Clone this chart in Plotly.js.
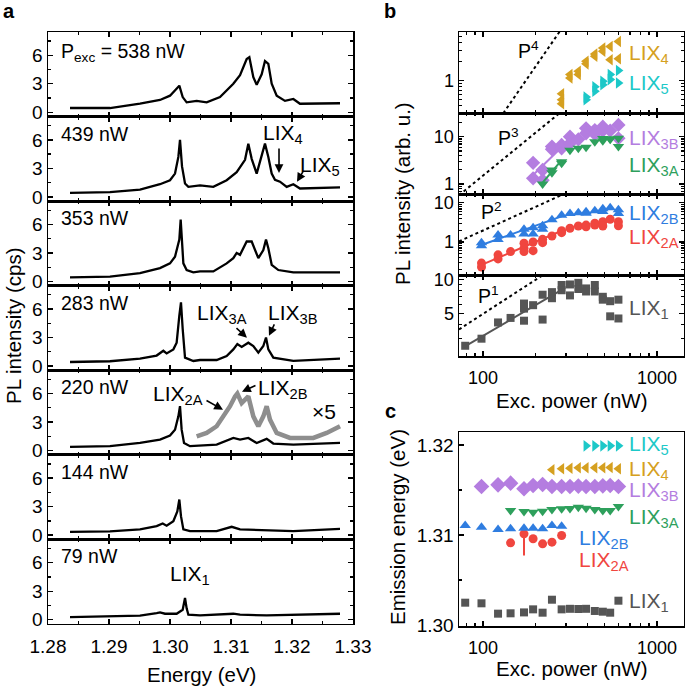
<!DOCTYPE html>
<html><head><meta charset="utf-8">
<script src="https://cdn.plot.ly/plotly-3.0.1.min.js"></script>
<style>html,body{margin:0;padding:0;background:#fff}</style>
</head><body><div id="chart" style="width:685px;height:686px"></div>
<script>
// ---------- Panel a: PL spectra (energy in eV, intensity in cps) ----------
const powersA = ['538', '439', '353', '283', '220', '144', '79'];
const E_538 = [1.28361,1.29016,1.29508,1.29836,1.30000,1.30109,1.30153,1.30208,1.30273,1.30437,1.30601,1.30820,1.30929,1.31038,1.31148,1.31257,1.31301,1.31366,1.31421,1.31503,1.31557,1.31612,1.31667,1.31749,1.31885,1.32022,1.32131,1.32787];
const I_538 = [0.45,0.45,0.9,1.3,1.75,2.45,2.8,1.6,1.05,1.2,1.05,1.6,2.3,3.0,3.9,5.6,5.8,3.7,2.9,4.0,5.4,5.1,3.0,1.75,1.2,1.4,0.9,0.95];
const E_439 = [1.28361,1.29016,1.29508,1.29836,1.30000,1.30082,1.30137,1.30164,1.30197,1.30246,1.30301,1.30492,1.30710,1.30929,1.31093,1.31230,1.31284,1.31339,1.31421,1.31503,1.31557,1.31612,1.31667,1.31721,1.31803,1.31913,1.32022,1.32131,1.32787];
const I_439 = [0.42,0.5,0.77,1.33,1.75,2.45,4.2,6.0,3.2,1.4,1.05,1.2,1.05,1.75,2.6,3.9,5.6,4.0,2.45,4.2,5.6,4.2,2.45,1.8,1.6,1.05,1.33,0.88,1.0];
const E_353 = [1.28361,1.29016,1.29508,1.29836,1.30000,1.30082,1.30153,1.30175,1.30219,1.30273,1.30383,1.30492,1.30710,1.30929,1.31038,1.31093,1.31148,1.31257,1.31339,1.31393,1.31448,1.31530,1.31574,1.31612,1.31667,1.31776,1.32022,1.32787];
const I_353 = [0.42,0.5,0.88,1.4,1.9,2.6,4.4,6.5,1.9,1.2,0.95,1.05,1.05,1.9,2.45,3.0,2.8,4.2,4.2,3.3,2.45,3.3,4.4,3.5,1.75,1.2,0.95,0.95];
const E_283 = [1.28361,1.29016,1.29508,1.29781,1.29891,1.29945,1.30055,1.30109,1.30153,1.30180,1.30208,1.30246,1.30383,1.30492,1.30765,1.30929,1.31038,1.31104,1.31175,1.31284,1.31366,1.31448,1.31530,1.31574,1.31612,1.31694,1.32022,1.32787];
const I_283 = [0.42,0.5,0.77,1.1,1.6,1.33,1.75,2.45,5.3,6.7,3.9,0.88,0.53,0.63,0.63,1.05,1.75,2.3,2.0,2.45,2.1,1.4,2.1,3.0,1.75,0.88,0.53,0.77];
const E_220 = [1.28361,1.29016,1.29508,1.29836,1.30000,1.30082,1.30137,1.30164,1.30191,1.30230,1.30328,1.30765,1.31038,1.31148,1.31284,1.31421,1.31585,1.31694,1.32022,1.32787];
const I_220 = [0.39,0.46,0.8,1.16,1.58,2.2,3.6,4.67,2.2,0.8,0.46,0.63,1.33,1.16,1.33,0.8,1.23,0.74,0.63,0.8];
const E_220x5 = [1.30437,1.30601,1.30765,1.30874,1.30984,1.31066,1.31104,1.31175,1.31284,1.31366,1.31448,1.31530,1.31585,1.31639,1.31749,1.31967,1.32350,1.32568,1.32787];
const I_220x5 = [1.5,1.86,2.56,3.6,4.67,5.7,6.0,5.0,5.7,3.6,2.56,3.6,4.67,3.26,1.86,1.33,1.33,1.86,2.56];
const E_144 = [1.28361,1.29016,1.29508,1.29781,1.29880,1.29945,1.30055,1.30120,1.30153,1.30180,1.30219,1.30328,1.30765,1.31011,1.31148,1.31530,1.32022,1.32787];
const I_144 = [0.35,0.39,0.6,0.95,1.23,1.0,1.47,2.5,3.75,2.0,0.6,0.42,0.42,0.88,0.6,0.53,0.42,0.67];
const E_79 = [1.28361,1.29016,1.29508,1.29781,1.29836,1.29918,1.30109,1.30208,1.30246,1.30273,1.30301,1.30492,1.31038,1.31148,1.31585,1.32787];
const I_79 = [0.28,0.35,0.42,0.7,0.77,0.63,0.63,1.05,2.28,1.2,0.53,0.46,0.63,0.53,0.46,0.63];
const xTicksA = [1.28, 1.29, 1.30, 1.31, 1.32, 1.33];
const xTickTextA = ['1.28', '1.29', '1.30', '1.31', '1.32', '1.33'];
const yTicksA = [0, 3, 6];

// ---------- Panel b: integrated intensity vs excitation power ----------
const P_b1 = [79,98,122,144,172,172,172,194,220,220,249,249,283,283,316,316,353,353,391,391,439,439,488,488,538,538,600,600];
const I_b1 = [2.58,2.98,4.15,4.55,6.1,5.5,4.3,5.9,7.3,4.4,7.7,6.8,8.9,8.0,9.0,7.2,9.3,8.2,8.3,7.8,8.9,7.8,7.0,6.6,6.4,4.7,6.6,4.5];
const P_b2B = [98,98,122,122,144,172,172,194,194,220,220,249,283,316,353,391,391,439,488,488,538,600,600];
const I_b2B = [0.95,0.8,1.5,1.15,1.5,2.1,1.6,2.3,1.6,2.6,2.1,3.7,4.8,5.3,5.6,5.9,5.4,6.3,7.0,6.0,7.5,6.6,5.3];
const P_b2A = [98,98,122,122,144,172,172,172,194,194,220,220,249,283,283,316,353,391,391,439,439,488,488,538,600,600];
const I_b2A = [0.29,0.23,0.47,0.37,0.57,0.93,0.69,0.57,1.0,0.6,1.17,0.96,1.42,1.95,1.73,2.24,2.56,2.7,2.45,3.0,2.7,3.3,2.56,3.8,3.3,2.6];
const P_b3B = [194,194,220,220,249,249,283,283,316,316,353,391,391,439,439,488,488,538,600,600];
const I_b3B = [2.8,1.32,1.98,1.2,6.2,5.4,6.7,5.7,10,7.25,8.8,15,11.8,13.8,11.4,16.3,13.4,13.4,17.7,9.25];
const P_b3A = [220,249,249,283,283,316,353,391,439,488,488,538,538,600,600];
const I_b3A = [1.0,1.98,1.73,2.74,2.96,5.2,5.7,5.97,7.8,8.2,9.2,8.8,9.0,9.25,6.2];
const P_b4 = [283,283,283,316,316,353,353,391,391,439,439,488,488,538,538,600,600];
const I_b4 = [0.62,0.5,0.43,1.25,1.1,1.41,1.25,2.03,1.85,2.65,2.44,3.3,2.93,3.5,2.15,4.2,2.23];
const P_b5 = [391,391,439,439,488,488,538,538,600,600];
const I_b5 = [0.5,0.55,0.68,0.8,0.98,0.86,1.25,1.04,1.45,0.92];
// fits (solid) and power-law guides (dotted)
const fitP_1 = [77, 283],  fitI_1 = [2.5, 8.05];
const fitP_2B = [98, 283], fitI_2B = [0.84, 4.5];
const fitP_2A = [98, 283], fitI_2A = [0.26, 1.94];
const fitP_3B = [194, 283], fitI_3B = [1.55, 5.97];
const fitP_3A = [220, 283], fitI_3A = [1.07, 3.2];
const guideP_1 = [72.8, 300], guideI_1 = [3.6, 14.8];
const guideP_2 = [72.8, 300], guideI_2 = [1.04, 17.7];
const guideP_3 = [72.8, 300], guideI_3 = [0.58, 40.8];
const guideP_4 = [125, 300],  guideI_4 = [0.254, 8.44];
const P_threshold = 283;

// ---------- Panel c: emission energy vs power ----------
const P_c1 = [79,98,122,144,172,194,220,249,283,316,353,391,439,488,538,600];
const E_c1 = [1.30248,1.30241,1.30126,1.3013,1.3014,1.30174,1.30137,1.30281,1.30174,1.3018,1.30178,1.3018,1.30156,1.30148,1.30137,1.3027];
const err_c1 = [0.0001,0.0001,0.0001,0.0001,0.0001,0.0002,0.0002,0.0001,0.0001,0.0001,0.0001,0.0001,0.0001,0.0001,0.0001,0.0001];
const P_c2B = [79,98,122,144,172,194,220,249,283];
const E_c2B = [1.31106,1.31087,1.31061,1.31069,1.31076,1.31076,1.31069,1.31106,1.31098];
const P_c2A = [144,172,194,220,249,283];
const E_c2A = [1.30913,1.31013,1.30958,1.30902,1.3092,1.30994];
const errUp_c2A = [0.0001,0.0009,0.0002,0.0001,0.0002,0.0003];
const errDn_c2A = [0.0001,0.0024,0.0002,0.0001,0.0002,0.0003];
const P_c3A = [144,172,194,220,249,283,316,353,391,439,488,538,600];
const E_c3A = [1.31272,1.31261,1.31253,1.31264,1.31283,1.31291,1.31294,1.31309,1.31298,1.31283,1.31272,1.31272,1.31317];
const P_c3B = [98,122,144,172,194,220,249,283,316,353,391,439,488,538,600];
const E_c3B = [1.31539,1.31557,1.31576,1.31513,1.3155,1.31561,1.31539,1.31539,1.31539,1.31543,1.31539,1.31539,1.31546,1.3155,1.31539];
const P_c4 = [249,283,316,353,391,439,488,538,600];
const E_c4 = [1.31724,1.31736,1.31742,1.31747,1.31747,1.31747,1.31747,1.3175,1.31736];
const P_c5 = [391,439,488,538,600];
const E_c5 = [1.3199,1.3199,1.3199,1.3199,1.3199];

// ---------- colours ----------
const C = {LIX1:'#555555', LIX2A:'#f0463f', LIX2B:'#2f7de0', LIX3A:'#2ea05c', LIX3B:'#b47de0', LIX4:'#d5a020', LIX5:'#1cc8c8'};

// ---------- layout helpers ----------
const W = 685, H = 686;
const FONT = 'Liberation Sans, Arial, sans-serif';
const TICK = 18, TITLE = 20.5, LBL = 19.5, LIXF = 21;
const fx = px => px / W, fy = py => 1 - py / H;
const layout = {width: W, height: H, margin: {l:0, r:0, t:0, b:0}, showlegend: false,
  paper_bgcolor: '#fff', plot_bgcolor: 'rgba(0,0,0,0)', font: {family: FONT, size: 18, color: '#000'},
  annotations: [], shapes: []};
const data = [];
const axBase = {showline: true, linecolor: '#000', linewidth: 1.5, mirror: 'allticks', ticks: 'inside',
  ticklen: 5, tickwidth: 1.3, tickcolor: '#000', showgrid: false, zeroline: false,
  tickfont: {family: FONT, size: TICK, color: '#000'}};

// Panel a
const specE = [E_538, E_439, E_353, E_283, E_220, E_144, E_79];
const specI = [I_538, I_439, I_353, I_283, I_220, I_144, I_79];
const aTop = 32, aH = 84.57;
for (let k = 0; k < 7; k++) {
  const n = k + 1, s = n === 1 ? '' : String(n);
  const top = aTop + aH * k, bot = top + aH;
  layout['xaxis' + s] = Object.assign({}, axBase, {domain: [fx(48), fx(353)], range: [1.28, 1.33], anchor: 'y' + s,
    tickmode: 'array', tickvals: xTicksA, ticktext: xTickTextA, showticklabels: n === 7, ticklabelstandoff: 5,
    tickfont: {family: FONT, size: 19, color: '#000'},
    minor: {tick0: 1.28, dtick: 0.005, ticks: 'inside', ticklen: 3, tickcolor: '#000'}});
  layout['yaxis' + s] = Object.assign({}, axBase, {domain: [fy(bot), fy(top)], range: [-0.45, 8.45], anchor: 'x' + s,
    tickmode: 'array', tickvals: yTicksA, ticktext: ['0', '3', '6'], tickfont: {family: FONT, size: 19, color: '#000'},
    minor: {tick0: 0, dtick: 1.5, ticks: 'inside', ticklen: 3, tickcolor: '#000'}});
  data.push({type: 'scatter', mode: 'lines', x: specE[k], y: specI[k], xaxis: 'x' + s, yaxis: 'y' + s,
    line: {color: '#000', width: 2.3}, hoverinfo: 'skip'});
  if (k === 4) data.push({type: 'scatter', mode: 'lines', x: E_220x5, y: I_220x5, xaxis: 'x5', yaxis: 'y5',
    line: {color: '#8e8e8e', width: 4.5}, hoverinfo: 'skip'});
  const lbl = k === 0 ? 'P<sub>exc</sub> = ' + powersA[k] + ' nW' : powersA[k] + ' nW';
  layout.annotations.push({text: lbl, xref: 'paper', yref: 'paper', x: fx(59), y: fy(top + (k === 0 ? 20 : 17)),
    xanchor: 'left', yanchor: 'middle', showarrow: false, font: {size: LBL}});
}

// Panel b
const bEdges = [32, 113, 194, 275, 356];
const bYr = [[-0.513, 0.773], [-0.211, 1.501], [-0.842, 1.2245], [0.321, 1.038]];
const bYt = [[1], [1, 10], [1, 10], [5, 10]];
const bYm = [[0.4,0.5,0.6,0.7,0.8,0.9,2,3,4,5], [0.7,0.8,0.9,2,3,4,5,6,7,8,9,20,30], [0.2,0.3,0.4,0.5,0.6,0.7,0.8,0.9,2,3,4,5,6,7,8,9], [3,4,6,7,8,9]];
const xMinorLog = [80,90,200,300,400,500,600,700,800,900];
const xRangeLog = [1.862, 3.155];
for (let k = 0; k < 4; k++) {
  const n = 8 + k, s = String(n);
  layout['xaxis' + s] = Object.assign({}, axBase, {type: 'log', domain: [fx(459), fx(684)], range: xRangeLog, anchor: 'y' + s,
    tickmode: 'array', tickvals: [100, 1000], ticktext: ['100', '1000'], showticklabels: k === 3, ticklabelstandoff: 5,
    minor: {tickmode: 'array', tickvals: xMinorLog, ticks: 'inside', ticklen: 3, tickcolor: '#000'}});
  layout['yaxis' + s] = Object.assign({}, axBase, {type: 'log', domain: [fy(bEdges[k + 1]), fy(bEdges[k])], range: bYr[k], anchor: 'x' + s,
    tickmode: 'array', tickvals: bYt[k], ticktext: bYt[k].map(String),
    minor: {tickmode: 'array', tickvals: bYm[k], ticks: 'inside', ticklen: 3, tickcolor: '#000'}});
}
function mk(x, y, ax, color, symbol, size) {
  return {type: 'scatter', mode: 'markers', x: x, y: y, xaxis: 'x' + ax, yaxis: 'y' + ax,
    marker: {color: color, symbol: symbol, size: size, line: {width: 0}}, hoverinfo: 'skip'};
}
function ln(x, y, ax, color, dash) {
  return {type: 'scatter', mode: 'lines', x: x, y: y, xaxis: 'x' + ax, yaxis: 'y' + ax,
    line: {color: color, width: 2, dash: dash || 'solid'}, hoverinfo: 'skip'};
}
data.push(ln(guideP_4, guideI_4, 8, '#000', 'dot'));
data.push(mk(P_b4, I_b4, 8, C.LIX4, 'triangle-left', 10));
data.push(mk(P_b5, I_b5, 8, C.LIX5, 'triangle-right', 10));
data.push(ln(guideP_3, guideI_3, 9, '#000', 'dot'));
data.push(mk(P_b3B, I_b3B, 9, C.LIX3B, 'diamond', 11));
data.push(mk(P_b3A, I_b3A, 9, C.LIX3A, 'triangle-down', 10));
data.push(ln(fitP_3B, fitI_3B, 9, C.LIX3B));
data.push(ln(fitP_3A, fitI_3A, 9, C.LIX3A));
data.push(ln(guideP_2, guideI_2, 10, '#000', 'dot'));
data.push(mk(P_b2B, I_b2B, 10, C.LIX2B, 'triangle-up', 10));
data.push(mk(P_b2A, I_b2A, 10, C.LIX2A, 'circle', 9));
data.push(ln(fitP_2B, fitI_2B, 10, C.LIX2B));
data.push(ln(fitP_2A, fitI_2A, 10, C.LIX2A));
data.push(ln(guideP_1, guideI_1, 11, '#000', 'dot'));
data.push(mk(P_b1, I_b1, 11, C.LIX1, 'square', 8));
data.push(ln(fitP_1, fitI_1, 11, C.LIX1));
layout.shapes.push({type: 'line', xref: 'x8', yref: 'paper', x0: Math.log10(P_threshold), x1: Math.log10(P_threshold),
  y0: fy(356), y1: fy(32), line: {color: '#8a8a8a', width: 2, dash: 'dash'}});

// Panel c
layout.xaxis12 = Object.assign({}, axBase, {type: 'log', domain: [fx(459), fx(684)], range: xRangeLog, anchor: 'y12', mirror: true,
  tickmode: 'array', tickvals: [100, 1000], ticktext: ['100', '1000'], ticklabelstandoff: 5,
  minor: {tickmode: 'array', tickvals: xMinorLog, ticks: 'inside', ticklen: 3, tickcolor: '#000'}});
layout.yaxis12 = Object.assign({}, axBase, {domain: [fy(626), fy(432)], range: [1.29989, 1.32144], anchor: 'x12', mirror: true,
  tickmode: 'array', tickvals: [1.30, 1.31, 1.32], ticktext: ['1.30', '1.31', '1.32'], tickfont: {family: FONT, size: 19, color: '#000'},
  minor: {tickmode: 'array', tickvals: [1.305, 1.315], ticks: 'inside', ticklen: 3, tickcolor: '#000'}});
function mkc(x, y, color, symbol, size, err, errm) {
  const t = mk(x, y, 12, color, symbol, size);
  if (err) t.error_y = {type: 'data', array: err, arrayminus: errm || err, color: color, thickness: 2, width: 0};
  return t;
}
data.push(mkc(P_c1, E_c1, C.LIX1, 'square', 8, err_c1));
data.push(mkc(P_c2A, E_c2A, C.LIX2A, 'circle', 9, errUp_c2A, errDn_c2A));
data.push(mkc(P_c2B, E_c2B, C.LIX2B, 'triangle-up', 10));
data.push(mkc(P_c3A, E_c3A, C.LIX3A, 'triangle-down', 10));
data.push(mkc(P_c3B, E_c3B, C.LIX3B, 'diamond', 12));
data.push(mkc(P_c4, E_c4, C.LIX4, 'triangle-left', 10));
data.push(mkc(P_c5, E_c5, C.LIX5, 'triangle-right', 10));

// ---------- text annotations ----------
function txt(text, px, py, opt) {
  layout.annotations.push(Object.assign({text: text, xref: 'paper', yref: 'paper', x: fx(px), y: fy(py),
    xanchor: 'left', yanchor: 'middle', showarrow: false, font: {size: LIXF, color: '#000'}}, opt || {}));
}
function arrow(ax, xv, yv, dx, dy) {
  layout.annotations.push({text: '', xref: 'x' + ax, yref: 'y' + ax, x: xv, y: yv, ax: dx, ay: dy,
    showarrow: true, arrowhead: 2, arrowsize: 1.1, arrowwidth: 1.6, arrowcolor: '#000'});
}
// panel letters
txt('<b>a</b>', 9, 11, {xanchor: 'center', font: {size: 20}});
txt('<b>b</b>', 390, 11, {xanchor: 'center', font: {size: 20}});
txt('<b>c</b>', 390, 411, {xanchor: 'center', font: {size: 20}});
// panel a labels
txt('LIX<sub>4</sub>', 261, 134);
txt('LIX<sub>5</sub>', 298, 166);
txt('LIX<sub>3A</sub>', 195, 314);
txt('LIX<sub>3B</sub>', 266, 314);
txt('LIX<sub>2A</sub>', 151, 395);
txt('LIX<sub>2B</sub>', 256, 389);
txt('×5', 310, 412);
txt('LIX<sub>1</sub>', 168, 575);
arrow('2', 1.31787, 2.5, 0, -26);
arrow('2', 1.32082, 1.58, 7, -12);
arrow('4', 1.31262, 2.97, -12, -11);
arrow('4', 1.31623, 3.18, 6, -13);
arrow('5', 1.30869, 4.3, -18, -10);
arrow('5', 1.3118, 6.19, 15, -7);
// axis titles
txt('Energy (eV)', 201, 674, {xanchor: 'center', font: {size: TITLE}});
txt('PL intensity (cps)', 13, 326, {xanchor: 'center', textangle: -90, font: {size: TITLE}});
txt('PL intensity (arb. u.)', 402, 194, {xanchor: 'center', textangle: -90, font: {size: TITLE}});
txt('Exc. power (nW)', 572, 400, {xanchor: 'center', font: {size: TITLE}});
txt('Emission energy (eV)', 397, 527, {xanchor: 'center', textangle: -90, font: {size: TITLE}});
txt('Exc. power (nW)', 572, 668, {xanchor: 'center', font: {size: TITLE}});
// panel b labels
txt('P<sup>4</sup>', 516, 50, {font: {size: LBL}});
txt('P<sup>3</sup>', 496, 137, {font: {size: LBL}});
txt('P<sup>2</sup>', 479, 211, {font: {size: LBL}});
txt('P<sup>1</sup>', 476, 295, {font: {size: LBL}});
txt('LIX<sub>4</sub>', 627, 54, {font: {size: LIXF, color: C.LIX4}});
txt('LIX<sub>5</sub>', 627, 84, {font: {size: LIXF, color: C.LIX5}});
txt('LIX<sub>3B</sub>', 627, 139, {font: {size: LIXF, color: C.LIX3B}});
txt('LIX<sub>3A</sub>', 627, 166, {font: {size: LIXF, color: C.LIX3A}});
txt('LIX<sub>2B</sub>', 627, 214, {font: {size: LIXF, color: C.LIX2B}});
txt('LIX<sub>2A</sub>', 627, 238, {font: {size: LIXF, color: C.LIX2A}});
txt('LIX<sub>1</sub>', 627, 309, {font: {size: LIXF, color: C.LIX1}});
// panel c labels
txt('LIX<sub>5</sub>', 627, 445, {font: {size: LIXF, color: C.LIX5}});
txt('LIX<sub>4</sub>', 627, 470, {font: {size: LIXF, color: C.LIX4}});
txt('LIX<sub>3B</sub>', 627, 491, {font: {size: LIXF, color: C.LIX3B}});
txt('LIX<sub>3A</sub>', 627, 518, {font: {size: LIXF, color: C.LIX3A}});
txt('LIX<sub>2B</sub>', 577, 539, {font: {size: LIXF, color: C.LIX2B}});
txt('LIX<sub>2A</sub>', 577, 561, {font: {size: LIXF, color: C.LIX2A}});
txt('LIX<sub>1</sub>', 627, 602, {font: {size: LIXF, color: C.LIX1}});

Plotly.newPlot('chart', data, layout, {displayModeBar: false, staticPlot: true});
</script></body></html>
